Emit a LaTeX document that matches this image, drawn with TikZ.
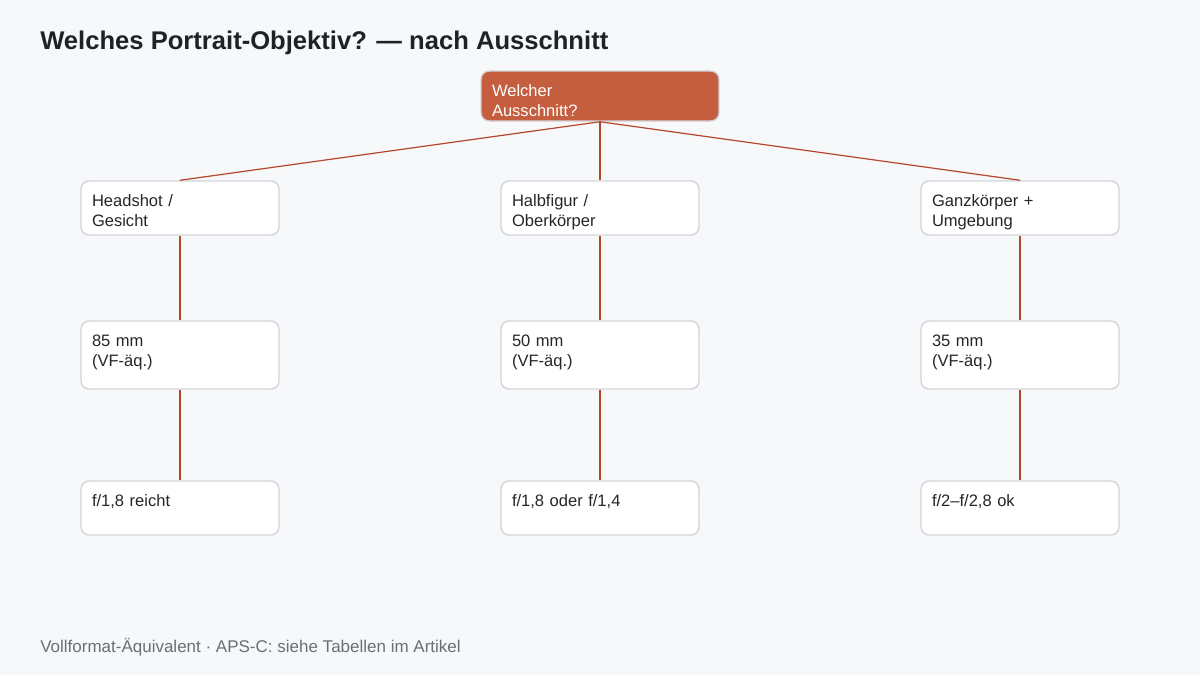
\documentclass[tikz,border=0pt]{standalone}
\usepackage{fontspec}
\setmainfont{Liberation Sans}
\usepackage{xcolor}

\definecolor{rust}{HTML}{C45E3E}
\definecolor{edgerust}{HTML}{B4472B}
\definecolor{boxgray}{HTML}{D2D5D9}
\definecolor{pagebg}{HTML}{F7F8FA}
\definecolor{titleink}{HTML}{1E2228}
\definecolor{noteink}{HTML}{6A6F76}

\begin{document}
\begin{tikzpicture}[x=0.75pt, y=-0.75pt,
        level 1/.style={level distance=84pt, sibling distance=315pt},
        level 2/.style={level distance=110.25pt},
        level 3/.style={level distance=114.75pt},
        edge from parent/.style={draw=edgerust, line width=0.9pt},
        edge from parent path={(\tikzparentnode.south) -- (\tikzchildnode.north)}]
      \tikzstyle{card} = [draw=boxgray, line width=1.1pt, fill=white, rounded corners=6pt,
        font=\fontsize{12.4}{15}\selectfont, text=black!85, align=left, text width=132pt,
        inner xsep=8.25pt, inner ysep=0pt, text height=18.75pt]
      \tikzstyle{crop} = [card, text depth=21.75pt]
      \tikzstyle{lens} = [card, text depth=32.25pt]
      \tikzstyle{aperture} = [card, text depth=21.75pt]
      \tikzstyle{question} = [card, fill=rust, text=white, text width=162pt, text depth=18.75pt]
      \fill[pagebg] (0,0) rectangle (1200,675);
      \useasboundingbox (0,0) rectangle (1200,675);
      \node (title) [anchor=base west, inner sep=0pt, text=titleink,
        font=\bfseries\fontsize{19.2}{23}\selectfont] at (40,49)
        {Welches Portrait-Objektiv? — nach Ausschnitt};
      \node (ausschnitt) [question] at (600,96) {Welcher\\Ausschnitt?}
        child {node (headshot) [crop] {Headshot /\\Gesicht}
        {
          child {node (mm85) [lens] {85 mm\\(VF-äq.)}
          {
            child {node (f85) [aperture] {f/1,8 reicht}}
          }}
        }}
        child {node (halbfigur) [crop] {Halbfigur /\\Oberkörper}
        {
          child {node (mm50) [lens] {50 mm\\(VF-äq.)}
          {
            child {node (f50) [aperture] {f/1,8 oder f/1,4}}
          }}
        }}
        child {node (ganzkoerper) [crop] {Ganzkörper +\\Umgebung}
        {
          child {node (mm35) [lens] {35 mm\\(VF-äq.)}
          {
            child {node (f35) [aperture] {f/2–f/2,8 ok}}
          }}
        }}
        ;
      \node (note) [anchor=base west, inner sep=0pt, text=noteink,
        font=\fontsize{12.75}{15}\selectfont] at (40,652)
        {Vollformat-Äquivalent · APS-C: siehe Tabellen im Artikel};
    \end{tikzpicture}
\end{document}
